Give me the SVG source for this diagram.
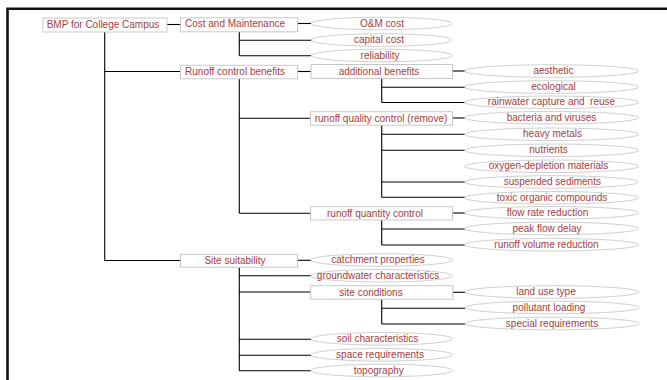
<svg xmlns="http://www.w3.org/2000/svg" width="667" height="380" viewBox="0 0 667 380">
<style>
.bx{fill:#fff;stroke:#c8c8c8;stroke-width:1}
.el{fill:#fff;stroke:#c4c4c4;stroke-width:0.8}
.t{font-family:"Liberation Sans",Arial,sans-serif;font-size:10px;fill:#a43e3e;text-anchor:middle}
.c{stroke:#000;stroke-width:1.1;fill:none}
.fr{stroke:#111;stroke-width:2.6;fill:none}
</style>
<rect width="667" height="380" fill="#fff"/>
<g id="frame">
<path class="fr" d="M7.5 380 V8.8 H667"/>
</g>
<g id="connectors">
<path class="c" d="M167 24.5 H180.5"/>
<path class="c" d="M104.7 32 V260.5 M104.7 71.5 H180.5 M104.7 260.5 H180.5"/>
<path class="c" d="M297.5 23.5 H311"/>
<path class="c" d="M239.3 32 V55.7 M239.3 40.3 H311 M239.3 55.7 H311"/>
<path class="c" d="M297.5 71.5 H311"/>
<path class="c" d="M239.3 79 V213.3 M239.3 118.3 H310.5 M239.3 213.3 H310.5"/>
<path class="c" d="M452.5 71 H465"/>
<path class="c" d="M381.7 78.5 V102.5 M381.7 87.3 H465 M381.7 102.5 H465"/>
<path class="c" d="M452.5 118 H465"/>
<path class="c" d="M381.7 125 V197.3 M381.7 134.3 H465 M381.7 150.3 H465 M381.7 182 H465 M381.7 197.3 H465"/>
<path class="c" d="M452.5 213 H465"/>
<path class="c" d="M381.7 220 V245 M381.7 229 H465 M381.7 245 H465"/>
<path class="c" d="M297.5 260.3 H311"/>
<path class="c" d="M239.3 267.3 V370.7 M239.3 275.7 H311 M239.3 292 H311 M239.3 339.3 H311 M239.3 355.3 H311 M239.3 370.7 H311"/>
<path class="c" d="M452.7 292.3 H465"/>
<path class="c" d="M381.7 299.3 V324 M381.7 308.3 H465 M381.7 324 H465"/>
</g>
<g id="n-bmp"><rect class="bx" x="43" y="18" width="124" height="14"/><text class="t" x="103" y="28.3">BMP for College Campus</text></g>
<g id="n-cost"><rect class="bx" x="180.5" y="17.8" width="117" height="14"/><text class="t" x="235" y="27">Cost and Maintenance</text></g>
<g id="n-runoff"><rect class="bx" x="180.5" y="65.3" width="117" height="13.5"/><text class="t" x="235" y="75.3">Runoff control benefits</text></g>
<g id="n-site"><rect class="bx" x="180.5" y="254.3" width="117" height="13"/><text class="t" x="235" y="264">Site suitability</text></g>
<g id="n-om"><ellipse class="el" cx="381.5" cy="23.5" rx="70.5" ry="6.3"/><text class="t" x="382" y="26.5">O&amp;M cost</text></g>
<g id="n-capital"><ellipse class="el" cx="381.5" cy="40" rx="70.5" ry="6.3"/><text class="t" x="379" y="43">capital cost</text></g>
<g id="n-reliability"><ellipse class="el" cx="382" cy="55.5" rx="70.5" ry="6.3"/><text class="t" x="380" y="58.5">reliability</text></g>
<g id="n-additional"><rect class="bx" x="311" y="64.5" width="141.5" height="14"/><text class="t" x="379" y="74.8">additional benefits</text></g>
<g id="n-quality"><rect class="bx" x="310.5" y="111.7" width="142" height="13.5"/><text class="t" x="381" y="121.8">runoff quality control (remove)</text></g>
<g id="n-quantity"><rect class="bx" x="310.5" y="206.7" width="142" height="13.3"/><text class="t" x="375" y="216.5">runoff quantity control</text></g>
<g id="n-conditions"><rect class="bx" x="310.7" y="285.7" width="142" height="13.6"/><text class="t" x="371" y="295.5">site conditions</text></g>
<g id="n-aesthetic"><ellipse class="el" cx="551.5" cy="71" rx="87" ry="6.3"/><text class="t" x="553.5" y="74">aesthetic</text></g>
<g id="n-ecological"><ellipse class="el" cx="551.5" cy="87" rx="87" ry="6.3"/><text class="t" x="553.5" y="90">ecological</text></g>
<g id="n-rainwater"><ellipse class="el" cx="551.5" cy="102.3" rx="87" ry="6.3"/><text class="t" x="551.5" y="105.3" xml:space="preserve">rainwater capture and  reuse</text></g>
<g id="n-bacteria"><ellipse class="el" cx="551.5" cy="117.7" rx="87" ry="6.3"/><text class="t" x="551.5" y="120.7">bacteria and viruses</text></g>
<g id="n-metals"><ellipse class="el" cx="551.5" cy="134.3" rx="87" ry="6.3"/><text class="t" x="552.5" y="137.3">heavy metals</text></g>
<g id="n-nutrients"><ellipse class="el" cx="551.5" cy="150.3" rx="87" ry="6.3"/><text class="t" x="548.5" y="153.3">nutrients</text></g>
<g id="n-oxygen"><ellipse class="el" cx="551.5" cy="166.3" rx="87" ry="6.3"/><text class="t" x="548.5" y="169.3">oxygen-depletion materials</text></g>
<g id="n-suspended"><ellipse class="el" cx="551.5" cy="182" rx="87" ry="6.3"/><text class="t" x="552.3" y="185">suspended sediments</text></g>
<g id="n-toxic"><ellipse class="el" cx="551.5" cy="197.8" rx="87" ry="6.3"/><text class="t" x="552" y="200.8">toxic organic compounds</text></g>
<g id="n-flowrate"><ellipse class="el" cx="551.5" cy="212.8" rx="87" ry="6.3"/><text class="t" x="547.5" y="215.8">flow rate reduction</text></g>
<g id="n-peak"><ellipse class="el" cx="551.5" cy="228.5" rx="87" ry="6.3"/><text class="t" x="547" y="231.5">peak flow delay</text></g>
<g id="n-volume"><ellipse class="el" cx="551.5" cy="244.7" rx="87" ry="6.3"/><text class="t" x="546.5" y="247.7">runoff volume reduction</text></g>
<g id="n-catchment"><ellipse class="el" cx="381.7" cy="260" rx="71" ry="6.3"/><text class="t" x="378" y="263">catchment properties</text></g>
<g id="n-groundwater"><ellipse class="el" cx="381.7" cy="275.7" rx="71" ry="6.3"/><text class="t" x="378" y="278.7">groundwater characteristics</text></g>
<g id="n-landuse"><ellipse class="el" cx="552" cy="292" rx="87" ry="6.3"/><text class="t" x="546" y="295">land use type</text></g>
<g id="n-pollutant"><ellipse class="el" cx="552" cy="307.5" rx="87" ry="6.3"/><text class="t" x="549" y="310.5">pollutant loading</text></g>
<g id="n-special"><ellipse class="el" cx="552" cy="323.5" rx="87" ry="6.3"/><text class="t" x="552" y="326.5">special requirements</text></g>
<g id="n-soil"><ellipse class="el" cx="381.7" cy="338.8" rx="71" ry="6.3"/><text class="t" x="377.5" y="341.8">soil characteristics</text></g>
<g id="n-space"><ellipse class="el" cx="381.7" cy="354.8" rx="71" ry="6.3"/><text class="t" x="380" y="357.8">space requirements</text></g>
<g id="n-topography"><ellipse class="el" cx="381.7" cy="370.5" rx="71" ry="6.3"/><text class="t" x="378.8" y="373.5">topography</text></g>
</svg>
